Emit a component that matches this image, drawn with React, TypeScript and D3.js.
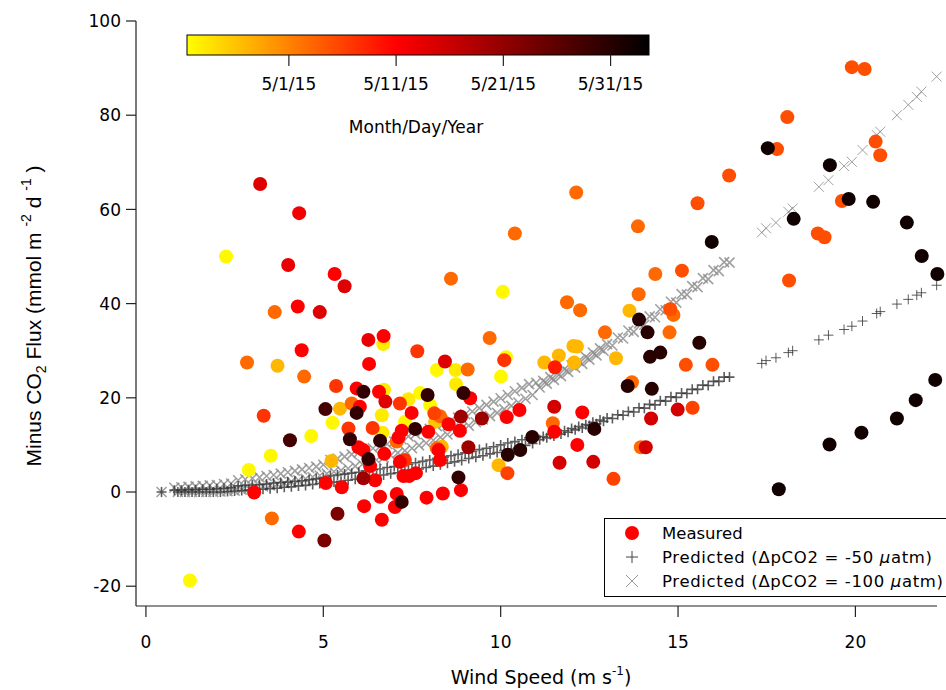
import * as d3 from 'd3'

// measured points: wind speed (m/s), minus CO2 flux, sampling date
const measWind = [
  3.22, 4.32, 2.26, 4.01, 5.32, 5.6, 3.63, 4.28, 4.9, 6.27, 6.7, 6.69, 4.39, 7.65,
  2.85, 3.71, 4.46, 5.36, 3.32, 5.06, 5.47, 5.26, 4.06, 4.66, 3.52, 2.9, 5.23, 3.05, 5.07, 3.55, 4.31, 5.03, 5.4, 1.24,
  6.29, 8.43, 8.2, 8.73, 9.07, 8.74, 5.94, 6.13, 6.57, 6.71, 6.75, 7.16, 7.4, 7.73, 7.94, 8.01, 8.95, 9.14, 5.8, 6.03,
  5.94, 6.65, 7.49, 7.3, 8.13, 8.29, 8.15, 8.53, 8.88, 9.47, 8.85, 5.71, 6.39, 6.67, 7.21, 7.59, 7.96, 7.12, 7.07, 5.75,
  6.6, 5.99, 6.13, 6.72, 6.27, 6.32, 7.16, 7.3, 8.2, 8.34, 8.25, 8.29, 9.09, 7.26, 7.42, 7.61, 6.13, 6.46, 8.81, 5.52,
  6.6, 7.07, 7.21, 7.02, 7.91, 8.37, 8.88, 6.15, 6.65,
  12.13, 10.4, 15.55, 13.87, 15.95, 8.6, 10.06, 14.36, 15.11, 11.87, 12.24, 13.89, 13.63, 13.9, 14.78, 14.87, 14.14,
  14.76, 15.6, 12.94, 9.69, 10.15, 10.1, 11.23, 11.64, 12.05, 12.15, 12.07, 11.53, 13.25, 14.21, 14.5, 15.22, 15.97,
  10.01, 13.7, 13.58, 14.26, 10.17, 10.53, 11.51, 12.3, 11.47, 11.51, 10.89, 10.55, 10.2, 9.94, 10.19, 12.16, 12.64,
  11.66, 12.61, 13.18, 14.24, 14.99, 15.41, 13.95, 14.09,
  19.9, 20.26, 18.08, 17.53, 17.79, 16.44, 20.57, 20.7, 19.28, 18.26, 19.62, 19.81, 20.5, 21.45, 18.94, 19.13, 21.87,
  22.31, 18.13, 22.25, 21.7, 21.17, 20.17, 19.27, 17.84
]
const measFlux = [
  65.4, 59.2, 50.0, 48.2, 46.3, 43.7, 38.2, 39.4, 38.2, 32.3, 33.1, 31.4, 30.1, 29.9,
  27.5, 26.8, 24.5, 22.5, 16.2, 17.6, 17.7, 14.7, 11.0, 11.9, 7.7, 4.7, 6.6, -0.1, 1.9, -5.6, -8.4, -10.3, -4.6, -18.8,
  27.2, 27.7, 25.9, 25.9, 26.0, 22.9, 22.0, 21.3, 21.3, 21.7, 19.2, 18.8, 19.7, 21.0, 20.6, 18.5, 21.0, 19.9, 18.8, 18.1,
  16.8, 16.3, 16.8, 14.9, 16.7, 16.1, 14.9, 14.4, 16.0, 15.6, 13.0, 13.5, 13.6, 12.6, 13.0, 13.4, 12.8, 11.6, 10.7, 11.2,
  10.9, 9.5, 8.9, 8.1, 7.0, 5.5, 6.4, 6.8, 9.3, 9.6, 8.9, 6.8, 9.5, 3.4, 3.4, 4.0, 2.9, 2.5, 3.1, 1.0,
  -1.0, -0.4, -2.1, -3.2, -1.2, -0.3, 0.4, -3.0, -5.9,
  63.6, 54.9, 61.3, 56.4, 53.1, 45.3, 42.5, 46.3, 47.0, 40.3, 38.6, 42.0, 38.5, 36.6, 38.8, 37.6, 33.9,
  33.9, 31.7, 33.9, 32.7, 28.6, 28.0, 27.5, 29.0, 31.0, 30.9, 27.5, 26.5, 28.4, 28.7, 29.6, 27.0, 27.0,
  24.5, 23.3, 22.5, 21.9, 15.9, 17.4, 18.1, 16.9, 14.6, 12.8, 11.7, 8.9, 7.9, 5.7, 4.0, 10.0, 13.4,
  6.2, 6.4, 2.8, 15.6, 17.5, 17.9, 9.5, 9.5,
  90.2, 89.8, 79.6, 73.0, 72.8, 67.2, 74.4, 71.5, 69.4, 58.0, 61.8, 62.2, 61.6, 57.2, 54.9, 54.1, 50.1,
  46.3, 44.9, 23.8, 19.5, 15.6, 12.6, 10.1, 0.6
]
const measDate = [
  '5/14/15', '5/12/15', '4/22/15', '5/13/15', '5/11/15', '5/14/15', '5/3/15', '5/11/15', '5/14/15', '5/13/15', '5/11/15', '4/23/15', '5/11/15', '5/7/15',
  '5/3/15', '4/27/15', '5/3/15', '5/7/15', '5/7/15', '5/28/15', '4/27/15', '4/22/15', '5/28/15', '4/22/15', '4/22/15', '4/22/15', '4/27/15', '5/11/15',
  '5/11/15', '5/3/15', '5/11/15', '5/23/15', '5/23/15', '4/22/15',
  '5/11/15', '5/14/15', '4/22/15', '4/23/15', '5/3/15', '4/23/15', '5/11/15', '5/30/15', '5/11/15', '4/23/15', '5/14/15', '5/7/15', '4/23/15', '4/22/15',
  '5/30/15', '4/22/15', '5/30/15', '5/11/15', '5/3/15', '5/11/15', '5/30/15', '4/23/15', '5/11/15', '4/22/15', '5/6/15', '5/3/15', '4/26/15', '5/11/15',
  '5/20/15', '5/20/15', '5/11/15', '5/7/15', '5/7/15', '4/23/15', '5/11/15', '5/30/15', '5/11/15', '5/11/15', '5/3/15', '5/30/15', '5/30/15', '5/11/15',
  '5/11/15', '5/11/15', '5/30/15', '5/11/15', '5/11/15', '5/7/15', '5/3/15', '4/27/15', '5/11/15', '5/11/15', '5/20/15', '5/11/15', '5/11/15', '5/11/15',
  '5/20/15', '5/11/15', '5/30/15', '5/11/15', '5/11/15', '5/11/15', '5/30/15', '5/11/15', '5/11/15', '5/11/15', '5/11/15', '5/11/15', '5/11/15',
  '5/3/15', '5/3/15', '5/5/15', '5/3/15', '6/2/15', '5/3/15', '4/22/15', '5/3/15', '5/5/15', '5/3/15', '5/3/15', '5/3/15', '4/27/15', '5/31/15',
  '5/5/15', '5/3/15', '5/31/15', '5/3/15', '5/31/15', '5/3/15', '5/3/15', '4/22/15', '5/7/15', '4/27/15', '4/27/15', '4/27/15', '4/27/15', '4/27/15',
  '5/9/15', '4/27/15', '5/31/15', '5/31/15', '5/5/15', '5/5/15',
  '4/22/15', '5/3/15', '5/31/15', '5/31/15', '5/11/15', '5/11/15', '5/15/15', '5/11/15', '5/3/15', '5/11/15', '5/31/15', '5/31/15', '5/31/15', '4/27/15',
  '5/6/15', '5/11/15', '5/31/15', '5/15/15', '5/15/15', '5/6/15', '5/15/15', '5/15/15', '5/6/15', '5/3/15', '5/15/15',
  '5/5/15', '5/5/15', '5/5/15', '6/2/15', '5/5/15', '5/5/15', '5/5/15', '5/5/15', '6/2/15', '6/2/15', '5/5/15', '6/2/15', '6/2/15', '6/2/15',
  '5/5/15', '5/5/15', '6/2/15', '6/2/15', '5/5/15', '6/2/15', '6/2/15', '6/2/15', '6/2/15', '6/2/15', '6/2/15'
]

// predicted flux along the wind record (upper / lower edge of the marker band, alternating)
const predWind = [
  0.44, 0.8, 0.9, 1.0, 1.1, 1.2, 1.3, 1.4, 1.5, 1.6, 1.7, 1.8, 1.9, 2.0, 2.1, 2.2, 2.3, 2.4, 2.5, 2.6, 2.7, 2.8, 2.9,
  3.0, 3.1, 3.2, 3.3, 3.4, 3.5, 3.6, 3.7, 3.8, 3.9, 4.0, 4.1, 4.2, 4.3, 4.4, 4.5, 4.6, 4.7, 4.8, 4.9,
  5.0, 5.1, 5.2, 5.3, 5.4, 5.5, 5.6, 5.7, 5.8, 5.9, 6.0, 6.1, 6.2, 6.3, 6.4, 6.5, 6.6, 6.7, 6.8, 6.9,
  7.0, 7.1, 7.2, 7.3, 7.4, 7.5, 7.6, 7.7, 7.8, 7.9, 8.0, 8.1, 8.2, 8.3, 8.4, 8.5, 8.6, 8.7, 8.8, 8.9,
  9.0, 9.1, 9.2, 9.3, 9.4, 9.5, 9.6, 9.7, 9.8, 9.9, 10.0, 10.1, 10.2, 10.3, 10.4, 10.5, 10.6, 10.7, 10.8, 10.9,
  11.0, 11.1, 11.2, 11.3, 11.4, 11.5, 11.6, 11.7, 11.8, 11.9, 12.0, 12.1, 12.2, 12.3, 12.4, 12.5, 12.6, 12.7, 12.8, 12.9,
  13.0, 13.15, 13.3, 13.45, 13.6, 13.75, 13.9, 14.05, 14.2, 14.35, 14.5, 14.65, 14.8, 14.95, 15.1, 15.25, 15.4, 15.55,
  15.7, 15.85, 16.0, 16.15, 16.3, 16.45,
  17.36, 17.48, 17.76, 18.11, 18.23, 18.97, 19.24, 19.68, 19.9, 20.2, 20.6, 20.7, 21.17, 21.49, 21.73, 21.86, 22.29
]
const predFlux50 = [
  0.0, 0.4, 0.0, 0.4, 0.0, 0.5, 0.0, 0.5, 0.0, 0.6, 0.0, 0.6, 0.0, 0.7, 0.0, 0.8, 0.1, 0.9, 0.2, 1.3, 0.3, 1.4, 0.4,
  1.5, 0.5, 1.6, 0.6, 1.7, 0.7, 1.9, 0.8, 2.0, 1.0, 2.1, 1.1, 2.3, 1.3, 2.4, 1.4, 2.6, 1.6, 2.8, 1.8,
  3.0, 1.9, 3.4, 2.1, 3.6, 2.3, 3.8, 2.5, 4.0, 2.7, 4.2, 2.9, 4.5, 3.2, 4.7, 3.4, 4.9, 3.6, 5.2, 3.9,
  5.4, 4.1, 5.7, 4.4, 5.9, 4.7, 6.2, 4.9, 6.5, 5.2, 6.8, 5.5, 7.1, 5.8, 7.4, 6.1, 7.7, 6.4, 8.0, 6.7,
  8.3, 7.1, 8.6, 7.4, 9.0, 7.7, 9.3, 8.1, 9.6, 8.4, 10.0, 8.8, 10.4, 9.1, 10.7, 9.5, 11.1, 9.9, 11.5, 10.3,
  11.6, 11.1, 11.8, 11.5, 12.2, 11.9, 12.6, 12.3, 13.0, 12.7, 13.5, 13.2, 13.9, 13.6, 14.3, 14.1, 14.8, 14.5, 15.3, 15.0,
  15.7, 15.6, 16.4, 16.3, 17.1, 17.0, 17.9, 17.8, 18.6, 18.5, 19.4, 19.3, 20.2, 20.1, 21.0, 20.9, 21.8, 21.8,
  22.7, 22.6, 23.5, 23.5, 24.4, 24.4,
  27.3, 27.9, 28.5, 29.6, 30.0, 32.3, 33.3, 34.5, 35.2, 36.3, 37.9, 38.3, 39.9, 40.9, 41.8, 42.3, 43.9
]
const predFlux100 = [
  0.0, 0.9, 0.0, 1.0, 0.0, 1.1, 0.0, 1.2, 0.0, 1.3, 0.0, 1.4, 0.0, 1.5, 0.1, 1.7, 0.2, 1.8, 0.3, 2.5, 0.5, 2.7, 0.7,
  2.9, 0.9, 3.1, 1.2, 3.4, 1.4, 3.6, 1.7, 3.9, 1.9, 4.2, 2.2, 4.5, 2.5, 4.8, 2.8, 5.1, 3.2, 5.4, 3.5,
  5.8, 3.9, 6.8, 4.3, 7.1, 4.6, 7.5, 5.0, 8.0, 5.5, 8.4, 5.9, 8.8, 6.3, 9.3, 6.8, 9.7, 7.3, 10.2, 7.8,
  10.7, 8.3, 11.2, 8.8, 11.8, 9.3, 12.3, 9.9, 12.9, 10.4, 13.4, 11.0, 14.0, 11.6, 14.6, 12.2, 15.2, 12.8, 15.8, 13.5,
  16.5, 14.1, 17.1, 14.8, 17.8, 15.4, 18.5, 16.1, 19.2, 16.8, 19.9, 17.6, 20.6, 18.3, 21.4, 19.0, 22.1, 19.8, 22.9, 20.6,
  23.2, 22.2, 23.6, 23.0, 24.4, 23.8, 25.2, 24.6, 26.1, 25.5, 26.9, 26.4, 27.8, 27.2, 28.7, 28.1, 29.6, 29.0, 30.5, 30.0,
  31.4, 31.1, 32.8, 32.6, 34.3, 34.0, 35.8, 35.5, 37.3, 37.1, 38.8, 38.6, 40.4, 40.2, 42.0, 41.9, 43.7, 43.5,
  45.4, 45.2, 47.1, 46.9, 48.8, 48.7,
  55.1, 56.0, 57.2, 59.5, 60.2, 64.8, 66.2, 69.2, 70.1, 72.6, 75.8, 76.5, 80.0, 82.2, 83.9, 85.0, 88.2
]

const xTicks = [0, 5, 10, 15, 20]
const yTicks = [-20, 0, 20, 40, 60, 80, 100]
const cbarTicks = ['5/1/15', '5/11/15', '5/21/15', '5/31/15']
const cbarStart = new Date(2015, 3, 21, 12)
const cbarMid = new Date(2015, 4, 11)
const cbarEnd = new Date(2015, 5, 3, 14)

const TICK_FONT = '"DejaVu Sans", sans-serif'

export default function App() {
  const width = 946
  const height = 690

  const x = d3.scaleLinear().domain([-0.28, 22.3]).range([136, 937])
  const y = d3.scaleLinear().domain([-24.2, 100]).range([606, 21])

  const parse = d3.timeParse('%-m/%-d/%y')
  const fmt = d3.timeFormat('%-m/%-d/%y')
  const color = d3.scaleTime<string>()
    .domain([cbarStart, cbarMid, cbarEnd])
    .range(['#ffff00', '#ff0000', '#000000'])
    .clamp(true)
  const cbx = d3.scaleTime().domain([cbarStart, cbarEnd]).range([187, 649])
  const midOffset = (cbx(cbarMid) - 187) / 462

  const points = d3.sort(
    measWind.map((w, i) => ({ w, f: measFlux[i], d: parse(measDate[i]) as Date })),
    p => p.d
  )

  const plus = (px: number, py: number, s: number) => `M${px - s},${py}h${2 * s}M${px},${py - s}v${2 * s}`
  const cross = (px: number, py: number, s: number) =>
    `M${px - s},${py - s}l${2 * s},${2 * s}M${px - s},${py + s}l${2 * s},${-2 * s}`
  // the underway record is much denser below ~16.5 m/s, markers pile up there
  const sw = (w: number) => (w < 16.6 ? 1.6 : 1)

  return (
    <svg width={width} height={height} style={{ position: 'absolute', left: 0, top: 0, background: '#fff' }}
      fontFamily={TICK_FONT}>
      <defs>
        <linearGradient id="yellowHot" x1="0" x2="1" y1="0" y2="0">
          <stop offset={0} stopColor={color(cbarStart)} />
          <stop offset={midOffset} stopColor={color(cbarMid)} />
          <stop offset={1} stopColor={color(cbarEnd)} />
        </linearGradient>
      </defs>

      {/* predicted */}
      <g fill="none">
        {predWind.map((w, i) => (
          <path key={'c' + i} d={cross(x(w), y(predFlux100[i]), 5)} stroke="#8a8a8a" strokeOpacity={0.8}
            strokeWidth={sw(w)} />
        ))}
        {predWind.map((w, i) => (
          <path key={'p' + i} d={plus(x(w), y(predFlux50[i]), 5)} stroke="#333" strokeOpacity={0.8}
            strokeWidth={sw(w)} />
        ))}
      </g>

      {/* measured */}
      {points.map((p, i) => (
        <circle key={i} cx={x(p.w)} cy={y(p.f)} r={7} fill={color(p.d)} />
      ))}

      {/* axes */}
      <g stroke="#222" strokeWidth={1.2} fill="none">
        <line x1={136} x2={136} y1={21} y2={606} />
        <line x1={136} x2={937} y1={606} y2={606} />
        {yTicks.map(t => <line key={t} x1={126} x2={136} y1={y(t)} y2={y(t)} />)}
        {xTicks.map(t => <line key={t} x1={x(t)} x2={x(t)} y1={606} y2={617} />)}
      </g>
      <g fontSize={17} fill="#000">
        {yTicks.map(t => (
          <text key={t} x={121} y={y(t)} dy="0.36em" textAnchor="end">{t}</text>
        ))}
        {xTicks.map(t => (
          <text key={t} x={x(t)} y={648} textAnchor="middle">{t}</text>
        ))}
      </g>

      <text x={541} y={684} fontSize={19} textAnchor="middle">
        Wind Speed (m s<tspan dy={-9} fontSize={12}>-1</tspan><tspan dy={9}>)</tspan>
      </text>

      <text transform="translate(41,316) rotate(-90)" fontSize={21} textAnchor="middle"
        fontFamily='"Liberation Sans", Arial, sans-serif'>
        Minus CO<tspan dy={5} fontSize={14}>2</tspan>
        <tspan dy={-5}> Flux (mmol m </tspan>
        <tspan dy={-10} fontSize={14}>-2</tspan>
        <tspan dy={10}>  d </tspan>
        <tspan dy={-10} fontSize={14}>-1</tspan>
        <tspan dy={10}> )</tspan>
      </text>

      {/* colour bar */}
      <rect x={187} y={35} width={462} height={20} fill="url(#yellowHot)" stroke="#000" strokeWidth={1} />
      {cbarTicks.map(t => {
        const d = parse(t) as Date
        return (
          <g key={t}>
            <line x1={cbx(d)} x2={cbx(d)} y1={55} y2={66} stroke="#222" strokeWidth={1.2} />
            <text x={cbx(d)} y={90} fontSize={17} textAnchor="middle">{fmt(d)}</text>
          </g>
        )
      })}
      <text x={416} y={133} fontSize={17} textAnchor="middle">Month/Day/Year</text>

      {/* legend */}
      <rect x={604.5} y={518.5} width={345} height={78} fill="#fff" stroke="#000" strokeWidth={1} />
      <circle cx={632} cy={533} r={7} fill="#ff0000" />
      <path d={plus(632, 557, 6)} stroke="#444" strokeWidth={1} fill="none" />
      <path d={cross(632, 581, 6)} stroke="#999" strokeWidth={1} fill="none" />
      <g fontSize={16.5}>
        <text x={662} y={533} dy="0.36em">Measured</text>
        <text x={662} y={557} dy="0.36em" textLength={270} lengthAdjust="spacing">
          Predicted (ΔpCO2 = -50 <tspan fontStyle="italic">µ</tspan>atm)
        </text>
        <text x={662} y={581} dy="0.36em" textLength={281} lengthAdjust="spacing">
          Predicted (ΔpCO2 = -100 <tspan fontStyle="italic">µ</tspan>atm)
        </text>
      </g>
    </svg>
  )
}
